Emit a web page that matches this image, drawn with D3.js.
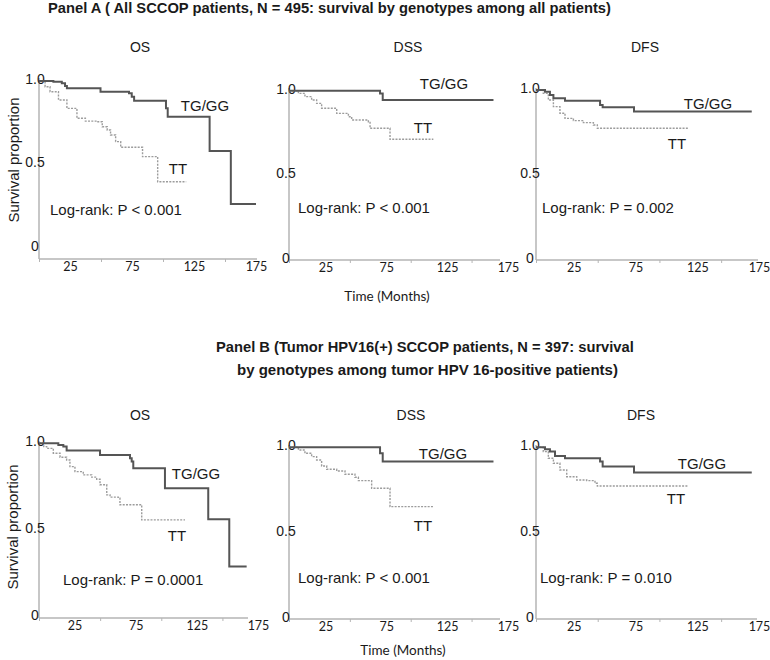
<!DOCTYPE html>
<html><head><meta charset="utf-8">
<script src="https://cdn.jsdelivr.net/npm/d3@7/dist/d3.min.js"></script>
<style>body{margin:0;background:#fff}</style>
</head><body>
<svg id="chart" width="770" height="660"></svg>
<script>
// ---------- data ----------
const timeTicks = [25, 75, 125, 175];
const minorTimeTicks = [0, 50, 100, 150];
const survTicks = [0, 0.5, 1];
const survTickLabels = ["0", "0.5", "1.0"];
const endpoints = ["OS", "DSS", "DFS"];
const groupLabels = ["TG/GG", "TT"];
const pValuesA = ["P < 0.001", "P < 0.001", "P = 0.002"];
const pValuesB = ["P = 0.0001", "P < 0.001", "P = 0.010"];
const titleA = ["Panel A ( All SCCOP patients, N = 495: survival by genotypes among all patients)"];
const titleB = ["Panel B (Tumor HPV16(+) SCCOP patients, N = 397: survival",
                "by genotypes among tumor HPV 16-positive patients)"];
const xTitle = "Time (Months)";
const yTitle = "Survival proportion";

// [month, survival proportion]
const aOS_TG = [[0,1],[11.6,0.996],[18.4,0.986],[21,0.970],[22.5,0.956],[49.6,0.936],[72.6,0.927],[74.8,0.906],[76.7,0.882],[102.4,0.837],[103.8,0.786],[137.6,0.581],[154.7,0.263],[175,0.263]];
const aOS_TT = [[0,1],[0.8,0.996],[4.9,0.966],[8.9,0.936],[15.7,0.886],[22.5,0.836],[30.6,0.777],[37.4,0.760],[46.9,0.756],[51,0.726],[55,0.707],[57.7,0.677],[61.8,0.637],[65.9,0.603],[83.5,0.547],[95.7,0.397],[118.7,0.397]];
const aDSS_TG = [[0,1],[74.8,0.984],[77,0.945],[168,0.945]];
const aDSS_TT = [[0,1],[7.7,0.984],[13.1,0.965],[18.6,0.945],[22.7,0.925],[26.8,0.896],[39.2,0.866],[48.8,0.846],[51.5,0.827],[65.2,0.817],[66.6,0.778],[83,0.713],[118.6,0.713]];
const aDFS_TG = [[0,1],[7.3,0.990],[11.3,0.971],[14.1,0.951],[23.5,0.937],[51.9,0.912],[54,0.898],[79.4,0.873],[174.8,0.873]];
const aDFS_TT = [[0,1],[5.9,0.980],[10,0.941],[14.1,0.902],[19.4,0.863],[23.5,0.833],[30.3,0.820],[38.4,0.808],[46.5,0.794],[49.7,0.775],[123.5,0.775]];
const bOS_TG = [[0,1],[15.8,0.990],[19.9,0.981],[22.6,0.958],[49.9,0.933],[74.4,0.914],[75.8,0.895],[77.1,0.856],[103,0.741],[138.4,0.563],[155.6,0.291],[169.8,0.291]];
const bOS_TT = [[0,1],[3.9,0.981],[6.3,0.971],[11.7,0.943],[17.2,0.920],[22.6,0.904],[25.3,0.866],[29.4,0.837],[36.2,0.818],[43.1,0.805],[47.2,0.793],[49.9,0.761],[55.4,0.703],[58.1,0.690],[64.8,0.684],[66.2,0.646],[84,0.559],[119.4,0.559]];
const bDSS_TG = [[0,1],[74.8,0.965],[77,0.917],[168,0.917]];
const bDSS_TT = [[0,1],[7.7,0.984],[13.1,0.965],[18.6,0.946],[22.7,0.926],[26.8,0.891],[31,0.872],[39.2,0.862],[46,0.843],[54.2,0.826],[57,0.806],[67.9,0.762],[83,0.655],[118.6,0.655]];
const bDFS_TG = [[0,1],[7.3,0.988],[11.3,0.975],[15.4,0.950],[23.5,0.936],[51.9,0.917],[54,0.888],[79.4,0.853],[174.8,0.853]];
const bDFS_TT = [[0,1],[5.9,0.975],[10,0.936],[14.1,0.907],[19.4,0.868],[24.9,0.829],[33,0.810],[41.1,0.806],[47.8,0.791],[49.7,0.775],[123.5,0.775]];

// ---------- layout ----------
const panels = [
  {name:endpoints[0], p:pValuesA[0], tg:aOS_TG,  tt:aOS_TT,  x0:39,  x1:256, xEnd:257, dx:0, y0:248,   y1:81,    axisY:259, yTop:78,  ylx:35,  tgL:[205,105], ttL:[178,168], lrL:[50,209],  head:[140,47]},
  {name:endpoints[1], p:pValuesA[1], tg:aDSS_TG, tt:aDSS_TT, x0:289, x1:502, xEnd:500, dx:6, y0:260,   y1:90.7,  axisY:260, yTop:88,  ylx:286, tgL:[444,83],  ttL:[423,127], lrL:[298,207], head:[408,47]},
  {name:endpoints[2], p:pValuesA[2], tg:aDFS_TG, tt:aDFS_TT, x0:536, x1:752, xEnd:758, dx:7, y0:260,   y1:90,    axisY:260, yTop:88,  ylx:530, tgL:[708,103], ttL:[677,143], lrL:[542,207], head:[645,47]},
  {name:endpoints[0], p:pValuesB[0], tg:bOS_TG,  tt:bOS_TT,  x0:39,  x1:253, xEnd:248, dx:5, y0:617,   y1:443.3, axisY:618, yTop:441, ylx:35,  tgL:[196,473], ttL:[177,535], lrL:[63,579],  head:[140,415]},
  {name:endpoints[1], p:pValuesB[1], tg:bDSS_TG, tt:bDSS_TT, x0:289, x1:502, xEnd:500, dx:6, y0:619.3, y1:447.3, axisY:619, yTop:445, ylx:286, tgL:[443,453], ttL:[423,525], lrL:[298,577], head:[411,415]},
  {name:endpoints[2], p:pValuesB[2], tg:bDFS_TG, tt:bDFS_TT, x0:536, x1:752, xEnd:757, dx:7, y0:619.3, y1:447.3, axisY:619, yTop:445, ylx:530, tgL:[702,463], ttL:[676,498], lrL:[540,577], head:[641,415]}
];

const svg = d3.select("#chart");
const SANS = "'Liberation Sans', Arial, sans-serif";
const TICKF = "Lato, 'Liberation Sans Narrow', sans-serif";
const AXIS_C = "#b5b5b5", TXT = "#1a1a1a";

function fitText(sel, target) {
  const w = sel.node().getComputedTextLength();
  const fs = parseFloat(sel.attr("font-size"));
  sel.attr("font-size", (fs * target / w).toFixed(2));
}

// titles
const tA = svg.append("text").attr("x", 48).attr("y", 8).attr("dominant-baseline","central")
  .attr("font-family", SANS).attr("font-weight","bold").attr("font-size", 13).attr("fill", TXT).text(titleA[0]);
fitText(tA, 563);
const tB1 = svg.append("text").attr("x", 216).attr("y", 347).attr("dominant-baseline","central")
  .attr("font-family", SANS).attr("font-weight","bold").attr("font-size", 13).attr("fill", TXT).text(titleB[0]);
fitText(tB1, 418);
const tB2 = svg.append("text").attr("x", 237).attr("y", 369).attr("dominant-baseline","central")
  .attr("font-family", SANS).attr("font-weight","bold").attr("font-size", 13).attr("fill", TXT).text(titleB[1]);
fitText(tB2, 381);

// x titles
[[387,296],[403,650]].forEach(([cx,cy]) => {
  svg.append("text").attr("x", cx).attr("y", cy).attr("text-anchor","middle").attr("dominant-baseline","central")
    .attr("font-family", TICKF).attr("font-size", 13.5).attr("fill", TXT).text(xTitle);
});
// y titles
[[13,160],[12,527]].forEach(([cx,cy]) => {
  svg.append("text").attr("transform", `translate(${cx},${cy}) rotate(-90)`).attr("text-anchor","middle")
    .attr("dominant-baseline","central").attr("font-family", SANS).attr("font-size", 15).attr("fill", TXT).text(yTitle);
});

panels.forEach(p => {
  const x = d3.scaleLinear().domain([0, 175]).range([p.x0, p.x1]);
  const y = d3.scaleLinear().domain([0, 1]).range([p.y0, p.y1]);
  const g = svg.append("g");

  // header
  g.append("text").attr("x", p.head[0]).attr("y", p.head[1]).attr("text-anchor","middle").attr("dominant-baseline","central")
    .attr("font-family", SANS).attr("font-size", 14).attr("fill", TXT).text(p.name);

  // y axis line
  g.append("line").attr("x1", x(0)).attr("x2", x(0)).attr("y1", p.yTop).attr("y2", p.axisY)
    .attr("stroke", AXIS_C).attr("stroke-width", 1.5);
  // x axis line
  g.append("line").attr("x1", x(0)).attr("x2", p.xEnd).attr("y1", p.axisY).attr("y2", p.axisY)
    .attr("stroke", AXIS_C).attr("stroke-width", 1.5);

  // minor tick marks
  const minor = g.append("g").attr("transform", `translate(0,${p.axisY})`)
    .call(d3.axisBottom(x).tickValues(minorTimeTicks).tickSize(3).tickFormat(""));
  minor.select(".domain").remove();
  minor.selectAll("line").attr("stroke", AXIS_C).attr("stroke-width", 1);

  // labelled ticks
  const lab = g.append("g").attr("transform", `translate(${p.dx},${p.axisY})`)
    .call(d3.axisBottom(x).tickValues(timeTicks).tickSize(0).tickPadding(3).tickFormat(d3.format("d")));
  lab.select(".domain").remove();
  lab.selectAll("text").attr("font-family", TICKF).attr("font-size", 12.5).attr("fill", TXT);

  // y tick labels
  const yl = g.append("g").attr("transform", `translate(${p.ylx - x(0)},-2)`)
    .call(d3.axisLeft(y).tickValues(survTicks).tickSize(0).tickPadding(0)
      .tickFormat((d,i) => survTickLabels[i]));
  yl.select(".domain").remove();
  yl.selectAll("text").attr("font-family", SANS).attr("font-size", 14).attr("fill", TXT)
    .attr("text-anchor","middle").attr("x", x(0));
  yl.attr("transform", `translate(${p.ylx - x(0)},-2)`);

  const line = d3.line().x(d => x(d[0])).y(d => y(d[1])).curve(d3.curveStepAfter);
  g.append("path").datum(p.tt).attr("d", line).attr("fill","none")
    .attr("stroke", "#9c9c9c").attr("stroke-width", 1.4).attr("stroke-dasharray", "2,1.3");
  g.append("path").datum(p.tg).attr("d", line).attr("fill","none")
    .attr("stroke", "#555").attr("stroke-width", 2);

  g.append("text").attr("x", p.tgL[0]).attr("y", p.tgL[1]).attr("text-anchor","middle").attr("dominant-baseline","central")
    .attr("font-family", SANS).attr("font-size", 15).attr("fill", TXT).text(groupLabels[0]);
  g.append("text").attr("x", p.ttL[0]).attr("y", p.ttL[1]).attr("text-anchor","middle").attr("dominant-baseline","central")
    .attr("font-family", SANS).attr("font-size", 15).attr("fill", TXT).text(groupLabels[1]);
  g.append("text").attr("x", p.lrL[0]).attr("y", p.lrL[1]).attr("dominant-baseline","central")
    .attr("font-family", SANS).attr("font-size", 15).attr("fill", TXT).text("Log-rank: " + p.p);
});
</script>
</body></html>
